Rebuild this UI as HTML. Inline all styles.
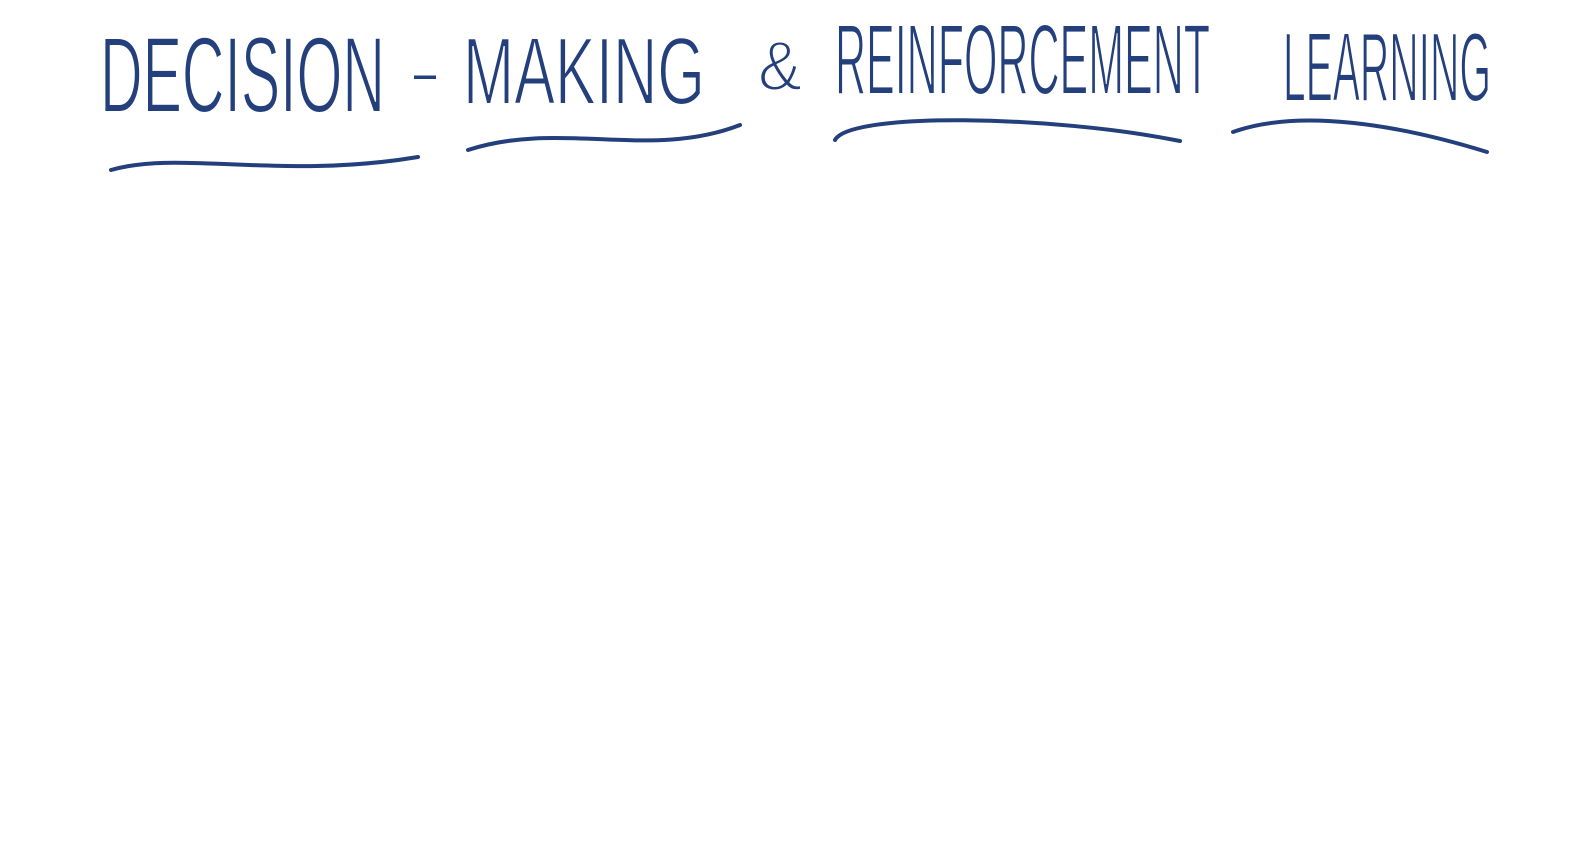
<!DOCTYPE html>
<html><head><meta charset="utf-8"><style>
html,body{margin:0;padding:0;background:#fff;width:1586px;height:868px;overflow:hidden}
svg{display:block}
text{font-family:"Liberation Sans",sans-serif;fill:#233f7c;font-weight:normal;stroke:#fff;stroke-width:2px}
</style></head><body>
<svg width="1586" height="868" viewBox="0 0 1586 868">
<g>
<text x="100" y="112" font-size="108" textLength="285" lengthAdjust="spacingAndGlyphs">DECISION</text>
<text x="408" y="96" font-size="70" textLength="34" lengthAdjust="spacingAndGlyphs">-</text>
<text x="463" y="104" font-size="96" textLength="242" lengthAdjust="spacingAndGlyphs">MAKING</text>
<text x="758" y="90" font-size="70" textLength="44" lengthAdjust="spacingAndGlyphs">&amp;</text>
<text x="835" y="94" font-size="100" textLength="375" lengthAdjust="spacingAndGlyphs">REINFORCEMENT</text>
<text x="1283" y="101" font-size="98" textLength="208" lengthAdjust="spacingAndGlyphs">LEARNING</text>
</g>
<g fill="none" stroke="#233f7c" stroke-width="4" stroke-linecap="round">
<path d="M111 170 C 180 150, 280 180, 418 157"/>
<path d="M468 150 C 560 120, 650 160, 740 125"/>
<path d="M835 140 C 850 112, 1050 115, 1180 141"/>
<path d="M1233 132 C 1300 108, 1400 125, 1487 152"/>
</g>
</svg>
</body></html>
